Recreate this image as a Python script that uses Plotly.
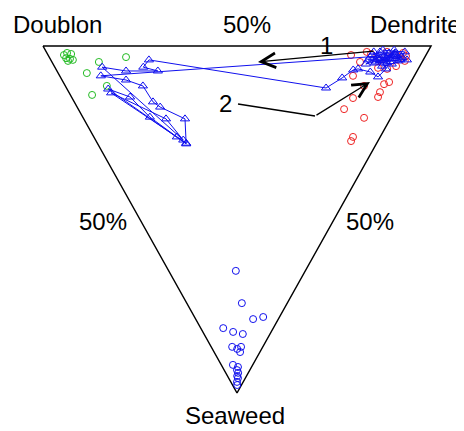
import plotly.graph_objects as go

# Compositions as fractions: dendrite share and seaweed share (doublon = 1 - dendrite - seaweed)
green_dendrite = [0.041, 0.052, 0.061, 0.042, 0.051, 0.057, 0.043, 0.198, 0.121, 0.074, 0.107, 0.056]
green_seaweed = [0.026, 0.020, 0.023, 0.035, 0.037, 0.040, 0.043, 0.032, 0.046, 0.078, 0.115, 0.141]

red_dendrite = [0.781, 0.826, 0.834, 0.878, 0.918, 0.921, 0.911, 0.881, 0.854, 0.832, 0.756,
                0.770, 0.824, 0.840, 0.802, 0.790, 0.724, 0.685, 0.724, 0.668, 0.657,
                0.894, 0.849, 0.794]
red_seaweed = [0.026, 0.017, 0.023, 0.017, 0.020, 0.029, 0.043, 0.058, 0.066, 0.063, 0.086,
               0.115, 0.110, 0.104, 0.133, 0.147, 0.150, 0.182, 0.207, 0.262, 0.274,
               0.026, 0.040, 0.046]

blue_dendrite = [0.173, 0.142, 0.148, 0.177, 0.058, 0.078, 0.100, 0.054, 0.064, 0.077,
                 0.067, 0.030, 0.040, 0.033, 0.032, 0.025, 0.024, 0.016, 0.012]
blue_seaweed = [0.648, 0.741, 0.787, 0.781, 0.813, 0.824, 0.830, 0.867, 0.873, 0.867,
                0.882, 0.919, 0.925, 0.934, 0.942, 0.951, 0.957, 0.968, 0.977]

# trajectory (in order)
path_dendrite = [0.835, 0.860, 0.874, 0.897, 0.909, 0.861, 0.835, 0.873, 0.818, 0.893,
                 0.924, 0.870, 0.876, 0.847, 0.806, 0.907, 0.899, 0.862, 0.844, 0.845,
                 0.918, 0.892, 0.827, 0.882, 0.894,
                 0.106, 0.165, 0.200, 0.203, 0.214, 0.261, 0.228, 0.106, 0.151, 0.173,
                 0.214, 0.229, 0.108, 0.212, 0.226, 0.122, 0.178, 0.260, 0.228, 0.253,
                 0.669, 0.725, 0.765, 0.779, 0.806, 0.819, 0.851, 0.852, 0.889, 0.831, 0.900]
path_seaweed = [0.026, 0.017, 0.029, 0.020, 0.032, 0.040, 0.046, 0.052, 0.040, 0.043,
                0.017, 0.012, 0.035, 0.032, 0.052, 0.026, 0.012, 0.049, 0.017, 0.058,
                0.040, 0.035, 0.032, 0.020, 0.026,
                0.086, 0.098, 0.115, 0.161, 0.176, 0.210, 0.282, 0.124, 0.147, 0.205,
                0.262, 0.280, 0.135, 0.210, 0.271, 0.061, 0.072, 0.072, 0.061, 0.040,
                0.121, 0.092, 0.069, 0.066, 0.075, 0.089, 0.066, 0.035, 0.026, 0.049, 0.040]

corner_labels = ["Doublon", "Dendrite", "Seaweed"]
mid_label = "50%"

OFF = 8                    # page body margin
W, H = 464 - OFF, 431 - OFF
X0, Y0 = 43 - OFF, 46 - OFF   # pure-doublon corner in figure pixels
SX, SY = 388, 347             # triangle width / height in pixels


def to_xy(dend, sea):
    return [b + c / 2 for b, c in zip(dend, sea)], list(sea)


fig = go.Figure()

# triangle outline: pure doublon, pure dendrite, pure seaweed
tri_d = [0, 1, 0, 0]
tri_s = [0, 0, 1, 0]
tx, ty = to_xy(tri_d, tri_s)
fig.add_trace(go.Scatter(x=tx, y=ty, mode="lines", line=dict(color="black", width=1.5),
                         hoverinfo="skip"))

gx, gy = to_xy(green_dendrite, green_seaweed)
fig.add_trace(go.Scatter(x=gx, y=gy, mode="markers",
                         marker=dict(symbol="circle-open", size=7, color="#22bb22",
                                     line=dict(width=1))))
rx, ry = to_xy(red_dendrite, red_seaweed)
fig.add_trace(go.Scatter(x=rx, y=ry, mode="markers",
                         marker=dict(symbol="circle-open", size=7, color="#ee2222",
                                     line=dict(width=1))))
bx, by = to_xy(blue_dendrite, blue_seaweed)
fig.add_trace(go.Scatter(x=bx, y=by, mode="markers",
                         marker=dict(symbol="circle-open", size=7, color="#1010ee",
                                     line=dict(width=1))))
px_, py_ = to_xy(path_dendrite, path_seaweed)
fig.add_trace(go.Scatter(x=px_, y=py_, mode="lines+markers",
                         line=dict(color="#1010ee", width=1),
                         marker=dict(symbol="triangle-up-open", size=8, color="#1010ee",
                                     line=dict(width=1))))

font = dict(family="Liberation Sans, Arial, sans-serif", size=24, color="black")


def pp(x, y):
    return (x - OFF) / W, 1 - (y - OFF) / H


def txt(s, x, y):
    u, v = pp(x, y)
    fig.add_annotation(text=s, x=u, y=v, xref="paper", yref="paper",
                       showarrow=False, font=font, xanchor="center", yanchor="middle")


txt(corner_labels[0], 57, 24)
txt(corner_labels[1], 415, 24)
txt(corner_labels[2], 235, 415)
txt(mid_label, 247, 24)
txt(mid_label, 103, 222)
txt(mid_label, 370, 222)
txt("1", 326, 45)
txt("2", 225, 103)

# arrow 1
u, v = pp(258, 62)
fig.add_annotation(x=u, y=v, xref="paper", yref="paper", text="",
                   showarrow=True, ax=117, ay=-11, arrowhead=5, arrowsize=2.2,
                   arrowwidth=1.3, arrowcolor="black", standoff=0)
# arrow 2 (bent)
u0, v0 = pp(238, 104)
u1, v1 = pp(315, 116)
fig.add_shape(type="line", x0=u0, y0=v0, x1=u1, y1=v1,
              xref="paper", yref="paper", line=dict(color="black", width=1.3))
u, v = pp(370, 82)
fig.add_annotation(x=u, y=v, xref="paper", yref="paper", text="",
                   showarrow=True, ax=-55, ay=34, arrowhead=5, arrowsize=2.2,
                   arrowwidth=1.3, arrowcolor="black", standoff=0)

fig.update_layout(
    width=W, height=H, margin=dict(l=0, r=0, t=0, b=0),
    paper_bgcolor="white", plot_bgcolor="white", showlegend=False,
    xaxis=dict(range=[-X0 / SX, (W - X0) / SX], visible=False, fixedrange=True),
    yaxis=dict(range=[(H - Y0) / SY, -Y0 / SY], visible=False, fixedrange=True),
)

fig.write_html("out.html")
